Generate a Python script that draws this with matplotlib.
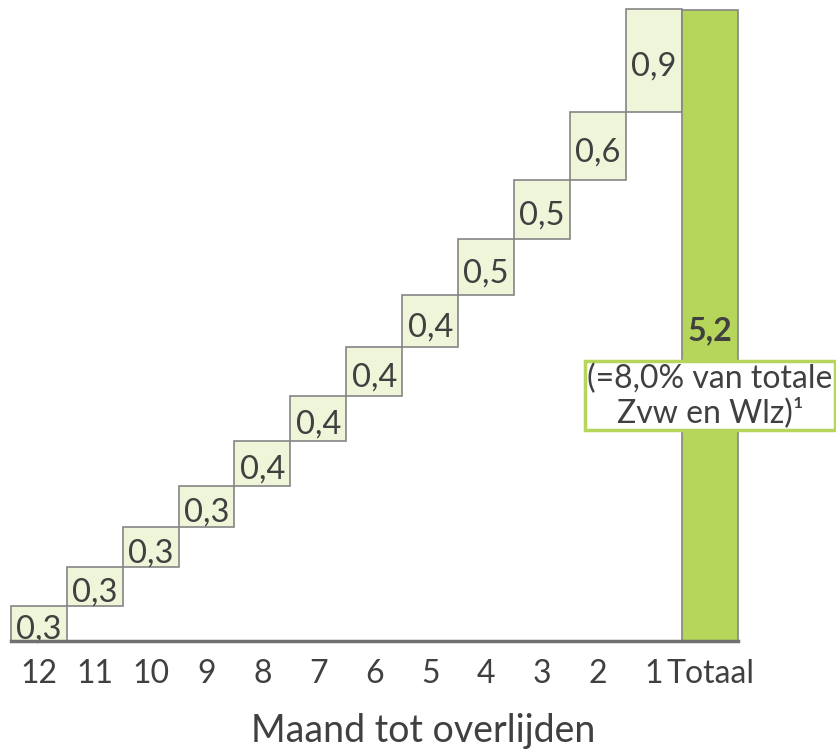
import matplotlib
matplotlib.use("Agg")
import matplotlib.pyplot as plt
import numpy as np

plt.rcParams['font.family'] = ['Lato', 'DejaVu Sans']

categories = ["12", "11", "10", "9", "8", "7", "6", "5", "4", "3", "2", "1"]
values = [0.29, 0.32, 0.33, 0.34, 0.37, 0.37, 0.40, 0.43, 0.46, 0.49, 0.56, 0.85]
value_labels = ["0,3", "0,3", "0,3", "0,3", "0,4", "0,4", "0,4", "0,4", "0,5", "0,5", "0,6", "0,9"]
total_label = "Totaal"
total_value = 5.2
total_text = "5,2"
note_text = "(=8,0% van totale\nZvw en Wlz)\u00b9"
xlabel = "Maand tot overlijden"

W, H = 837, 752
fig = plt.figure(figsize=(W / 100, H / 100), dpi=100)
ax = fig.add_axes([10.7 / W, (H - 641) / H, 727.3 / W, 631 / H])

txt = "#404040"
light = "#EEF5D9"
green = "#B5D65A"
edge = "#858585"

x = np.arange(len(categories))
bottoms = np.concatenate([[0], np.cumsum(values)[:-1]])
bars = ax.bar(x, values, bottom=bottoms, width=1.0, color=light, edgecolor=edge, linewidth=1.2, zorder=2)
for b_ in bars:
    b_.set_clip_on(False)
for xi, b, v, lab in zip(x, bottoms, values, value_labels):
    ax.annotate(lab, (xi, b + v / 2), xytext=(0, -4.5), textcoords="offset points",
                ha="center", va="center", fontsize=23.5, color=txt, zorder=3)

xt = len(categories)
tb = ax.bar([xt], [total_value], width=1.0, color=green, edgecolor=edge, linewidth=1.2, zorder=2)
tb[0].set_clip_on(False)

ax.set_xlim(-0.5, xt + 0.5)
ax.set_ylim(0, total_value)
ax.set_xticks(list(x) + [xt])
ax.set_xticklabels(categories + [total_label], fontsize=23, color=txt)
ax.tick_params(axis="x", length=0, pad=13)
ax.set_yticks([])
for s in ["top", "left", "right"]:
    ax.spines[s].set_visible(False)
ax.spines["bottom"].set_color("#707070")
ax.spines["bottom"].set_linewidth(2.5)
ax.spines["bottom"].set_zorder(4)

ax.text(xt, 2.56, total_text, ha="center", va="center", fontsize=23, fontweight="bold", color=txt, zorder=5)
ax.text(xt, 2.02, note_text, ha="center", va="center", fontsize=23, color=txt, zorder=5,
        linespacing=1.15,
        bbox=dict(boxstyle="square,pad=0.06", facecolor="white", edgecolor=green, linewidth=2.5),
        clip_on=False)

fig.text(423 / W, 1 - 731 / H, xlabel, ha="center", va="center", fontsize=27, color=txt)

fig.savefig("out.png", dpi=100, facecolor="white")
